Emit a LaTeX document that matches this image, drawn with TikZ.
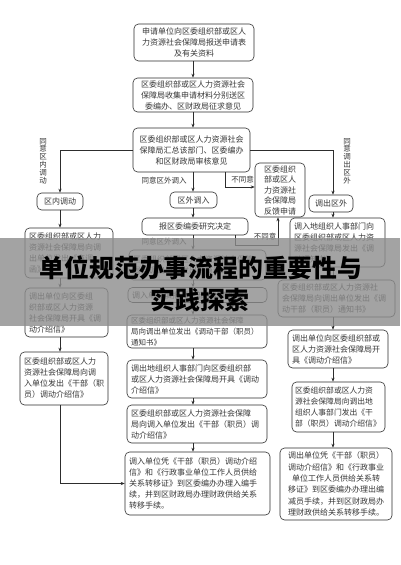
\documentclass[tikz,border=0pt]{standalone}
\usepackage{fontspec}
\setmainfont{Noto Sans CJK SC}
\usetikzlibrary{arrows.meta}
\definecolor{linec}{RGB}{45,45,45}
\definecolor{textc}{RGB}{55,55,55}
\definecolor{bannerc}{RGB}{140,140,140}
\newcommand\bxf{\fontsize{8}{11}\selectfont}
\newcommand\bxs{\fontsize{7.5}{11}\selectfont}
\newcommand\bxv{\fontsize{7.5}{7.8}\selectfont}
\tikzset{
  box/.style={draw=linec, line width=0.6pt, rounded corners=4.5pt, inner xsep=4pt, inner ysep=0pt, text=textc, font=\bxf},
  arr/.style={draw=linec, line width=0.6pt, -{Stealth[length=4pt,width=3.2pt]}},
  lnk/.style={draw=linec, line width=0.6pt},
  lab/.style={text=textc, font=\bxs, inner sep=0pt},
  vlab/.style={text=textc, font=\bxv, inner sep=0pt, align=center}
}
\begin{document}
\begin{tikzpicture}[x=1pt,y=-1pt]
\useasboundingbox (0,0) rectangle (400,565);
\fill[white] (0,0) rectangle (400,565);

% top chain
\node[box, minimum width=120pt, minimum height=37pt, text width=112pt, align=center] (n1) at (194,42.5) {申请单位向区委组织部或区人\\力资源社会保障局报送申请表\\及有关资料};
\node[box, minimum width=120pt, minimum height=34pt, text width=112pt, align=center] (n2) at (193,95) {区委组织部或区人力资源社会\\保障局收集申请材料分别送区\\委编办、区财政局征求意见};
\node[box, minimum width=117pt, minimum height=44pt, text width=109pt, align=center] (n3) at (191.5,150) {区委组织部或区人力资源社会\\保障局汇总该部门、区委编办\\和区财政局审核意见};

% second row
\node[box, minimum width=46pt, minimum height=17pt] (n5) at (60,201.5) {区内调动};
\node[box, minimum width=47pt, minimum height=16pt] (n7) at (193.5,200) {区外调入};
\node[box, minimum width=44pt, minimum height=17pt] (n9) at (331,203.5) {调出区外};
\node[box, minimum width=50pt, minimum height=54pt, text width=42pt, align=center, font=\fontsize{8}{10.5}\selectfont] (n10) at (280,190) {区委组织\\部或区人\\力资源社\\会保障局\\反馈申请};
\node[box, minimum width=106pt, minimum height=17pt] (n12) at (195,226.5) {报区委编委研究决定};

% left column
\node[box, minimum width=88pt, minimum height=50pt, text width=80pt, align=left] (L1) at (69,253) {区委组织部或区人力\\资源社会保障局向调\\出单位发出《商调\\函》};
\node[box, minimum width=83pt, minimum height=49pt, text width=75pt, align=left] (L2) at (66.5,312.5) {调出单位向区委组\\织部或区人力资源\\社会保障局开具《调\\动介绍信》};
\node[box, minimum width=88pt, minimum height=53pt, text width=80pt, align=left] (L3) at (64,378.5) {区委组织部或区人力\\资源社会保障局向调\\入单位发出《干部（职\\员）调动介绍信》};

% middle column
\node[box, minimum width=137pt, minimum height=30pt, text width=129pt, align=left] (M1) at (197.5,265) {区委组织部或区人力资源社会保障\\局向调出单位发出《商调函》};
\node[box, minimum width=139pt, minimum height=15pt, text width=131pt, align=left] (M2) at (197.5,295) {调入单位填报《干部调动审批表》};
\node[box, minimum width=140pt, minimum height=33pt, text width=132pt, align=left, font=\bxs] (M3) at (197,331.5) {区委组织部或区人力资源社会保障\\局向调出单位发出《调动干部（职员）\\通知书》};
\node[box, minimum width=140pt, minimum height=38pt, text width=132pt, align=left] (M4) at (197,379) {调出地组织人事部门向区委组织部\\或区人力资源社会保障局开具《调动\\介绍信》};
\node[box, minimum width=140pt, minimum height=38pt, text width=132pt, align=left] (M5) at (197,424) {区委组织部或区人力资源社会保障\\局向调入单位发出《干部（职员）调\\动介绍信》};
\node[box, minimum width=145pt, minimum height=63pt, text width=137pt, align=left] (M6) at (197.5,483.5) {调入单位凭《干部（职员）调动介绍\\信》和《行政事业单位工作人员供给\\关系转移证》到区委编办办理入编手\\续，并到区财政局办理财政供给关系\\转移手续。};

% right column
\node[box, minimum width=95pt, minimum height=49pt, text width=87pt, align=left] (R1) at (337.5,242.5) {调入地组织人事部门向\\区委组织部或区人力资\\源社会保障局发出《调\\动通知书》};
\node[box, minimum width=117pt, minimum height=37pt, text width=109pt, align=left] (R2) at (336.5,298.5) {区委组织部或区人力资源社\\会保障局向调出单位发出《调\\动干部（职员）通知书》};
\node[box, minimum width=100pt, minimum height=38pt, text width=92pt, align=left] (R3) at (338,349) {调出单位向区委组织部或\\区人力资源社会保障局开\\具《调动介绍信》};
\node[box, minimum width=93pt, minimum height=50pt, text width=87pt, inner xsep=3pt, align=left, font=\fontsize{7.8}{11}\selectfont] (R4) at (338.5,407) {区委组织部或区人力资\\源社会保障局向调出地\\组织人事部门发出《干\\部（职员）调动介绍信》};
\node[box, minimum width=112pt, minimum height=72pt, text width=104pt, align=center, font=\fontsize{8}{11.3}\selectfont] (R5) at (336,484) {调出单位凭《干部（职员）\\调动介绍信》和《行政事业\\单位工作人员供给关系转\\移证》到区委编办办理出编\\减员手续，并到区财政局办\\理财政供给关系转移手续。};

% labels
\node[vlab] (lab1) at (43,161) {同\\意\\区\\内\\调\\动};
\node[vlab] (lab3) at (347,161) {同\\意\\调\\出\\区\\外};
\node[lab] (lab2) at (164,181) {同意区外调入};
\node[lab] (lab4) at (242.5,180) {不同意};
\node[lab] (lab5) at (265,237) {不同意};
\node[lab] (lab6) at (164,242) {同意区外调入};

% helper coordinates
\coordinate (xl) at (60,0);
\coordinate (xm) at (193,0);
\coordinate (xr) at (333,0);
\coordinate (c1) at (225,187);
\coordinate (c2) at (235,245);
\coordinate (c3) at (278,245);

% connectors
\draw[arr] (n1.south -| xm) -- (n2.north -| xm);
\draw[arr] (n2.south -| xm) -- (n3.north -| xm);
\draw[arr] (n3.west) -| (n5.north);
\draw[arr] (n3.east) -| (n9.north -| xr);
\draw[arr] (n3.south -| xm) -- (n7.north -| xm);
\draw[arr] (c1 |- n3.south) -- (c1) -- (c1 -| n10.west);
\draw[arr] (n7.south -| xm) -- (n12.north -| xm);
\draw[arr] (c2 |- n12.south) -- (c2) -- (c3) -- (c3 |- n10.south);
\draw[arr] (n12.south -| xm) -- (M1.north -| xm);
\draw[arr] (M1.south -| xm) -- (M2.north -| xm);
\draw[arr] (M2.south -| xm) -- (M3.north -| xm);
\draw[arr] (M3.south -| xm) -- (M4.north -| xm);
\draw[arr] (M4.south -| xm) -- (M5.north -| xm);
\draw[arr] (M5.south -| xm) -- (M6.north -| xm);
\draw[arr] (n5.south -| xl) -- (L1.north -| xl);
\draw[arr] (L1.south -| xl) -- (L2.north -| xl);
\draw[arr] (L2.south -| xl) -- (L3.north -| xl);
\draw[arr] (L3.south -| xl) |- (M6.west);
\draw[arr] (n9.south -| xr) -- (R1.north -| xr);
\draw[arr] (R1.south -| xr) -- (R2.north -| xr);
\draw[arr] (R2.south -| xr) -- (R3.north -| xr);
\draw[arr] (R3.south -| xr) -- (R4.north -| xr);
\draw[arr] (R4.south -| xr) -- (R5.north -| xr);

% banner
\fill[bannerc, opacity=0.8] (0,238) rectangle (400,326);
\node[inner sep=0pt, font=\fontsize{24.8}{30}\selectfont\bfseries] (t1) at (201,268) {单位规范办事流程的重要性与};
\node[inner sep=0pt, font=\fontsize{24.8}{30}\selectfont\bfseries] (t2) at (200,300) {实践探索};
\end{tikzpicture}
\end{document}
